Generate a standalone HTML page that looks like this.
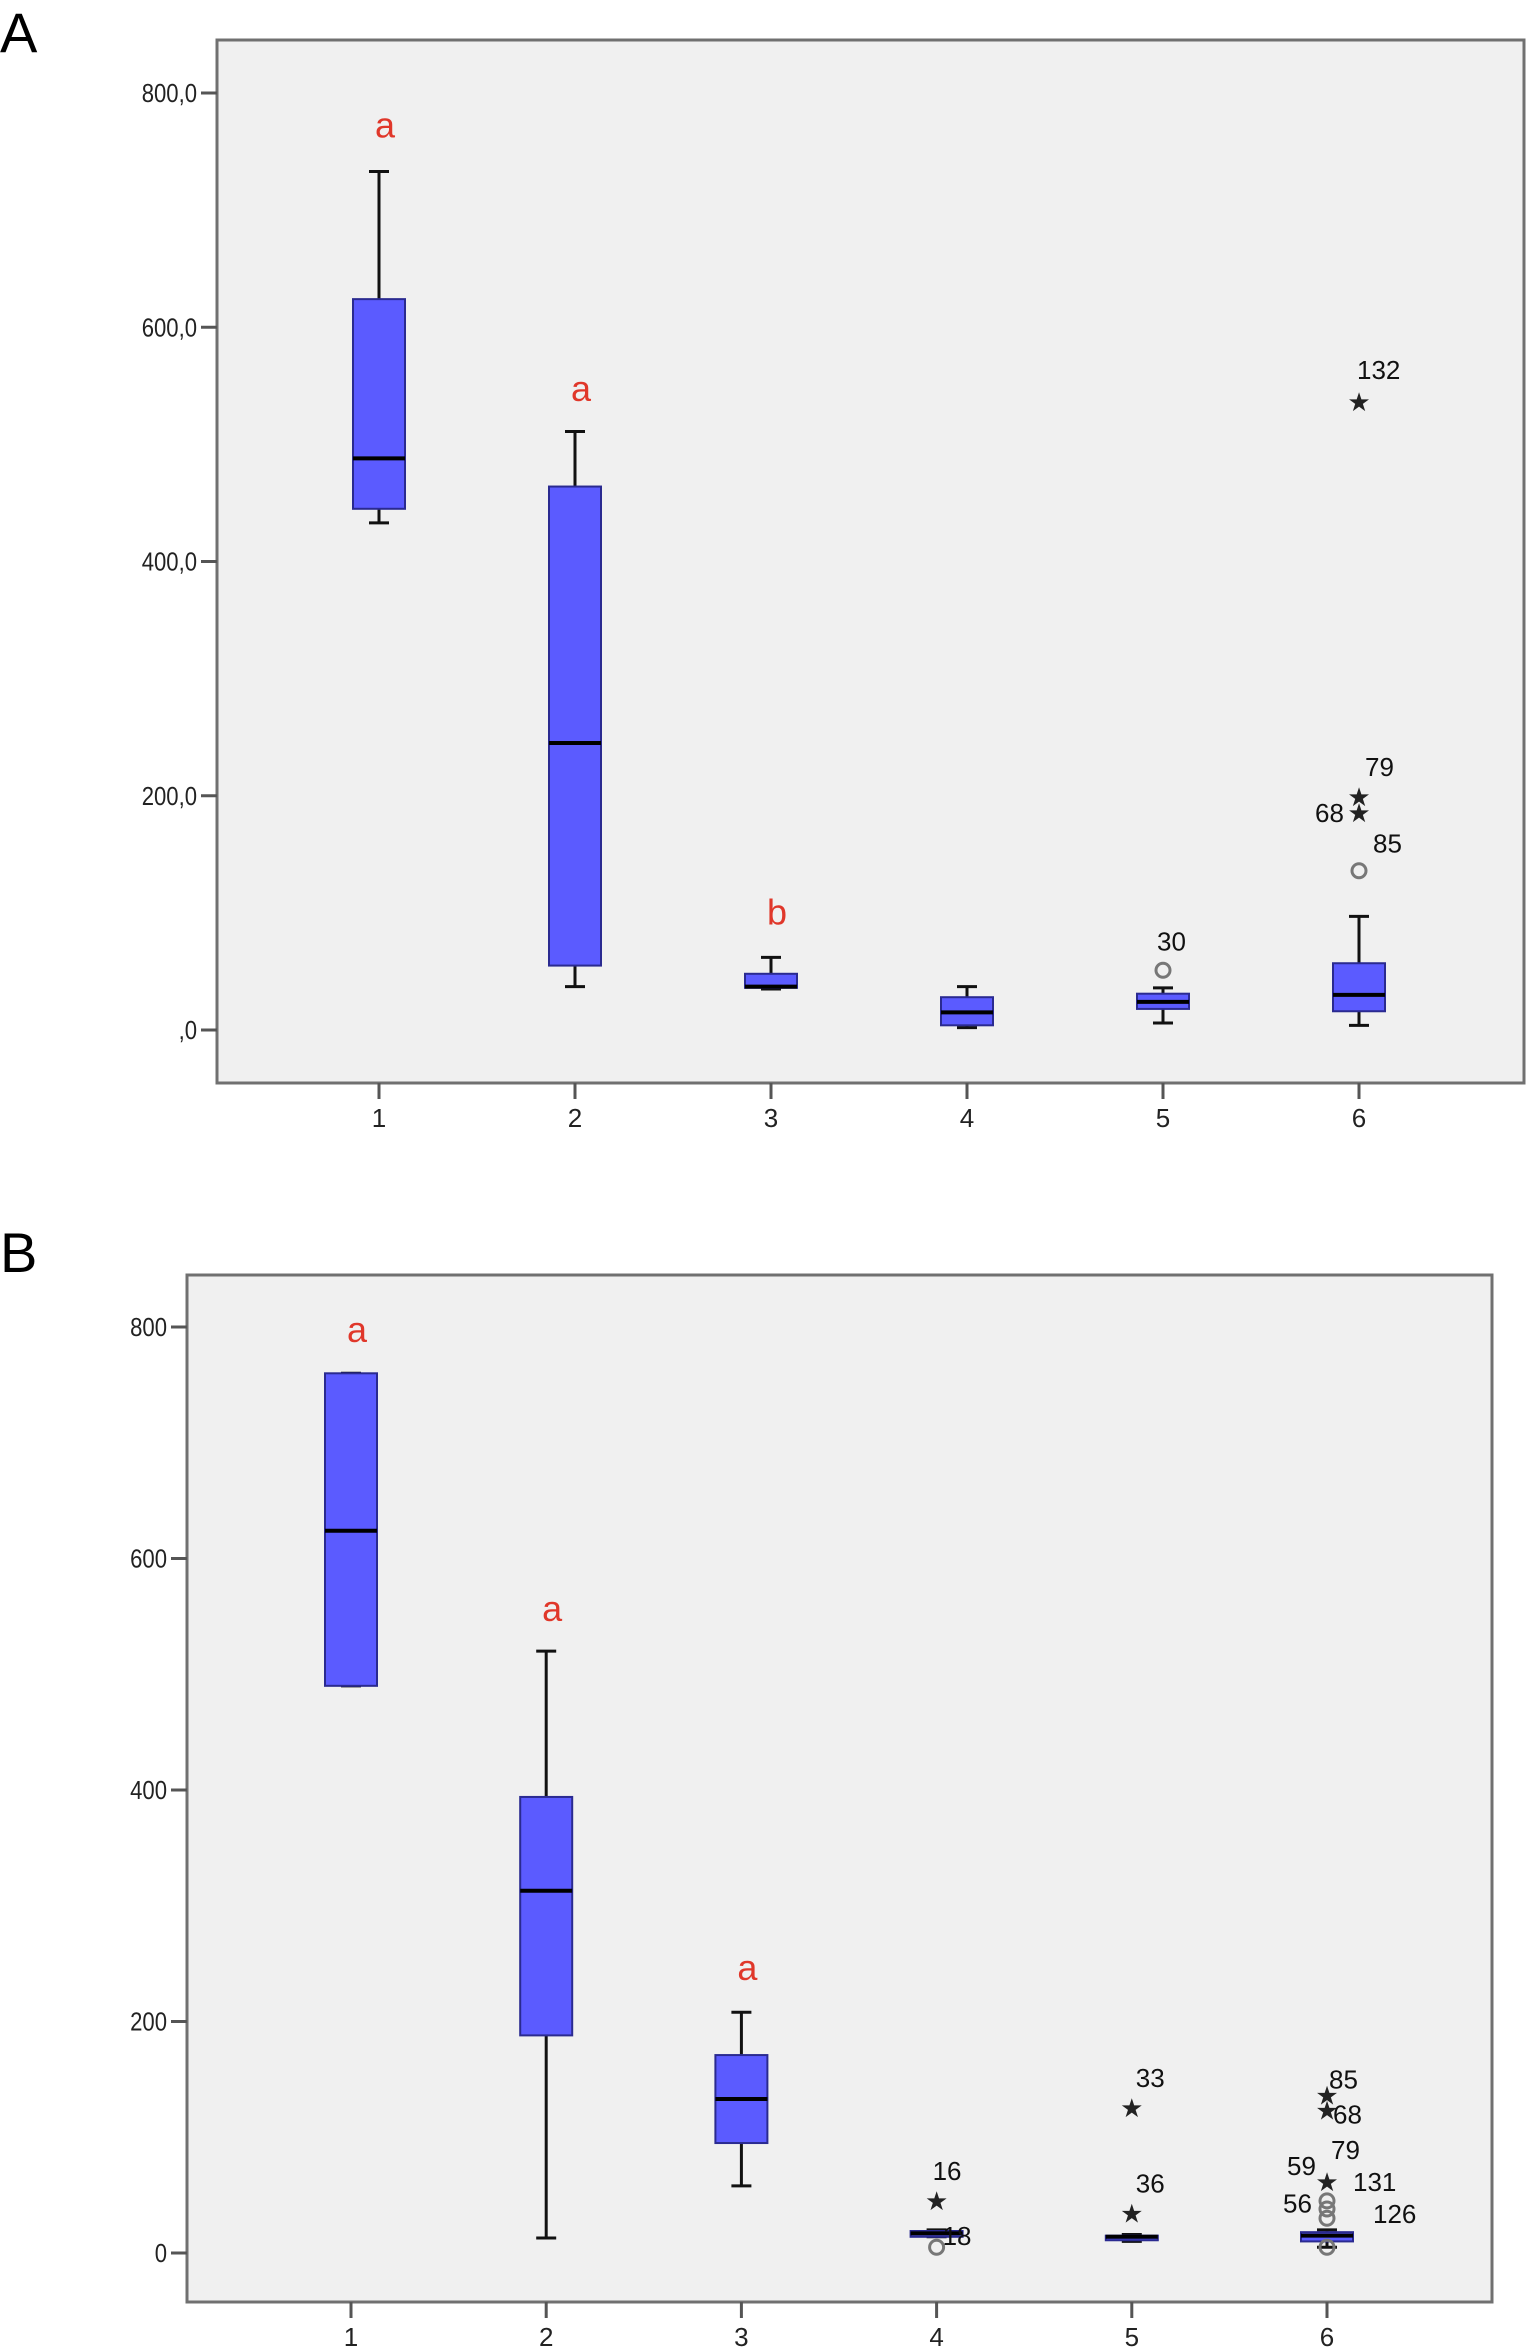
<!DOCTYPE html>
<html><head><meta charset="utf-8">
<style>
body{margin:0;background:#fff;}
svg{display:block;font-family:"Liberation Sans",sans-serif;}
</style></head>
<body>
<svg id="chart" width="1529" height="2349" viewBox="0 0 1529 2349" xmlns="http://www.w3.org/2000/svg">
<text x="0" y="52" font-size="56" fill="#000">A</text>
<text x="0" y="1272" font-size="56" fill="#000">B</text>
</svg>
<script>
// ---- data ----
var categories = ["1","2","3","4","5","6"];
var yTicksA = [0,200,400,600,800];
var yTickLabelsA = [",0","200,0","400,0","600,0","800,0"];
var yTicksB = [0,200,400,600,800];
var yTickLabelsB = ["0","200","400","600","800"];
// [low whisker, q1, median, q3, high whisker]
var lowA = [433,37,35,2,6,4];
var q1A = [445,55,36,4,18,16];
var medA = [488,245,37,15,24,30];
var q3A = [624,464,48,28,31,57];
var highA = [733,511,62,37,36,97];
var lowB = [490,13,58,14,10,5];
var q1B = [490,188,95,14,11,10];
var medB = [624,313,133,17,14,15];
var q3B = [760,394,171,19,15,18];
var highB = [760,520,208,20,16,20];
var outlierCatA = [4,5,5,5,5];
var outlierValA = [51,136,200,186,537];
var outlierTypeA = ["o","o","*","*","*"];
var outlierLabA = ["30","85","79","68","132"];
var outlierCatB = [3,3,4,4,5,5,5,5,5,5,5];
var outlierValB = [46,5,126,35,137,124,62,45,38,30,5];
var outlierTypeB = ["*","o","*","*","*","*","*","o","o","o","o"];
var outlierLabB = ["16","18","33","36","85","68","79","59","131","56","126"];
var lettersA = ["a","a","b","","",""];
var letterValA = [762,537,90,0,0,0];
var lettersB = ["a","a","a","","",""];
var letterValB = [787,546,236,0,0,0];

var NS="http://www.w3.org/2000/svg";
var svg=document.getElementById('chart');
function mk(tag,attrs,parent){var e=document.createElementNS(NS,tag);for(var k in attrs)e.setAttribute(k,attrs[k]);(parent||svg).appendChild(e);return e;}

function panel(p){
  var g=mk('g',{});
  
  
  var frame=mk('rect',{x:p.L,y:p.T,width:p.R-p.L,height:p.B-p.T,fill:'#f0f0f0',stroke:'#707070','stroke-width':3},g);
  
  
  function y(v){return p.y0+(v)*(p.y800-p.y0)/800;}
  function x(i){return p.xs0+i*(p.xs5-p.xs0)/5;}
  p.yTicks.forEach(function(v,i){
    mk('line',{x1:p.L-16,x2:p.L,y1:y(v),y2:y(v),stroke:'#555','stroke-width':3},g);
    var t=mk('text',{x:0,y:0,'font-size':26,'text-anchor':'end',fill:'#222',transform:'translate('+(p.L-20)+','+(y(v)+9)+') scale(0.85,1)'},g);
    t.textContent=p.yLabels[i];
    
    
  });
  categories.forEach(function(c,i){
    var cx=x(i);
    mk('line',{x1:cx,x2:cx,y1:p.B,y2:p.B+16,stroke:'#555','stroke-width':3},g);
    var t=mk('text',{x:cx,y:p.B+44,'font-size':26,'text-anchor':'middle',fill:'#222'},g);
    t.textContent=c;
    
    
    var bw=52, cw=20;
    mk('line',{x1:cx,x2:cx,y1:y(p.high[i]),y2:y(p.q3[i]),stroke:'#111','stroke-width':3},g);
    mk('line',{x1:cx,x2:cx,y1:y(p.q1[i]),y2:y(p.low[i]),stroke:'#111','stroke-width':3},g);
    mk('line',{x1:cx-cw/2,x2:cx+cw/2,y1:y(p.high[i]),y2:y(p.high[i]),stroke:'#111','stroke-width':3},g);
    mk('line',{x1:cx-cw/2,x2:cx+cw/2,y1:y(p.low[i]),y2:y(p.low[i]),stroke:'#111','stroke-width':3},g);
    var b=mk('rect',{x:cx-bw/2,y:y(p.q3[i]),width:bw,height:Math.max(3,y(p.q1[i])-y(p.q3[i])),fill:'#5b5bff',stroke:'#2a2a90','stroke-width':2},g);
    
    
    mk('line',{x1:cx-bw/2,x2:cx+bw/2,y1:y(p.med[i]),y2:y(p.med[i]),stroke:'#000','stroke-width':4},g);
    if(p.letters[i]){
      var l=mk('text',{x:cx+6,y:y(p.letterVal[i]),'font-size':36,'text-anchor':'middle',fill:'#e0372a'},g);
      l.textContent=p.letters[i];
      
      
    }
  });
  p.oCat.forEach(function(ci,k){
    var cx=x(ci), cy=y(p.oVal[k]);
    var m;
    if(p.oType[k]==='o'){m=mk('circle',{cx:cx,cy:cy,r:7,fill:'none',stroke:'#777','stroke-width':3},g);}
    else{m=mk('text',{x:cx,y:cy+10,'font-size':26,'text-anchor':'middle',fill:'#222'},g);m.textContent='★';}
    
    
    var lab=mk('text',{x:cx+(p.lx[k]||14),y:cy+(p.ly[k]||-20),'font-size':26,fill:'#111'},g);
    lab.textContent=p.oLab[k];
    
    
  });
}
panel({name:'panel-a',L:217,T:40,R:1524,B:1083,y0:1030,y800:93,xs0:379,xs5:1359,yTicks:yTicksA,yLabels:yTickLabelsA,
  low:lowA,q1:q1A,med:medA,q3:q3A,high:highA,letters:lettersA,letterVal:letterValA,
  oCat:outlierCatA,oVal:outlierValA,oType:outlierTypeA,oLab:outlierLabA,
  lx:[-6,14,6,-44,-2],ly:[-20,-18,-20,10,-22]});
panel({name:'panel-b',L:187,T:1275,R:1492,B:2302,y0:2253,y800:1327,xs0:351,xs5:1327,yTicks:yTicksB,yLabels:yTickLabelsB,
  low:lowB,q1:q1B,med:medB,q3:q3B,high:highB,letters:lettersB,letterVal:letterValB,
  oCat:outlierCatB,oVal:outlierValB,oType:outlierTypeB,oLab:outlierLabB,
  lx:[-4,6,4,4,2,6,4,-40,26,-44,46],ly:[-20,-2,-20,-20,-6,14,-22,-26,-18,-6,-24]});
</script>
</body></html>
